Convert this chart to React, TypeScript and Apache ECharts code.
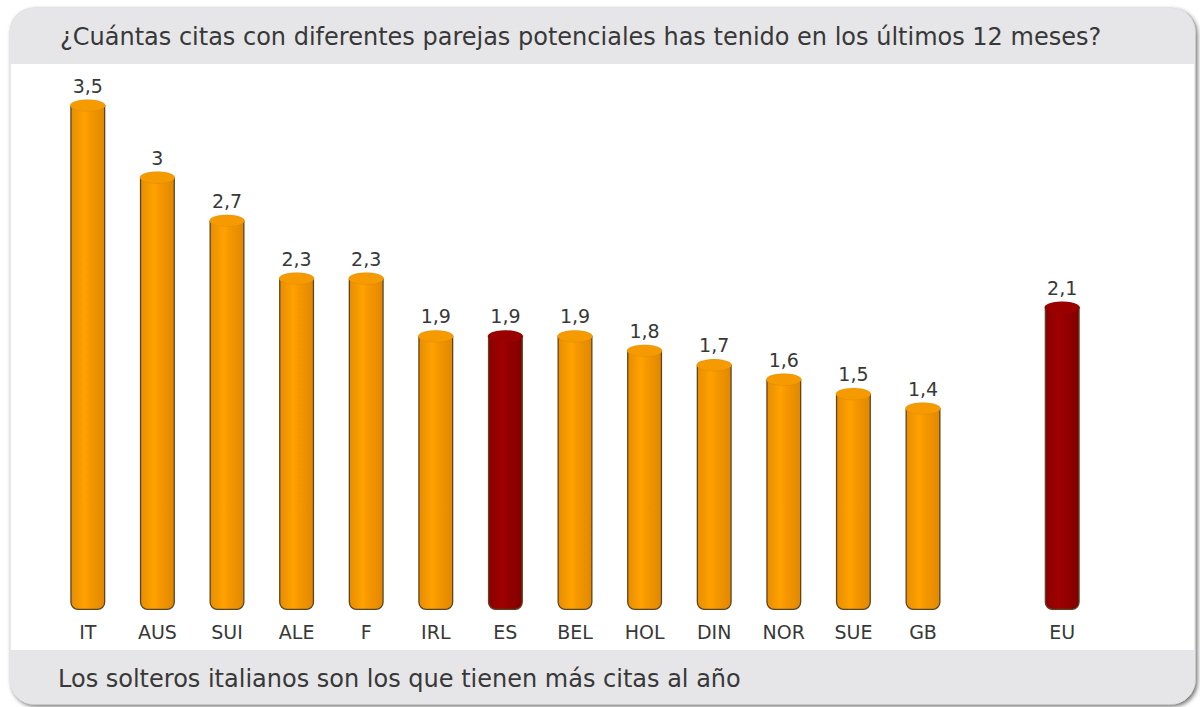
import React, { useEffect, useRef } from "react";
import * as echarts from "echarts";

const titleText = "¿Cuántas citas con diferentes parejas potenciales has tenido en los últimos 12 meses?";
const footerText = "Los solteros italianos son los que tienen más citas al año";
const categories = ["IT", "AUS", "SUI", "ALE", "F", "IRL", "ES", "BEL", "HOL", "DIN", "NOR", "SUE", "GB", "", "EU"];
const values: (number | null)[] = [3.5, 3, 2.7, 2.3, 2.3, 1.9, 1.9, 1.9, 1.8, 1.7, 1.6, 1.5, 1.4, null, 2.1];
const highlighted = ["ES", "EU"];

const FONT = "'DejaVu Sans', Verdana, sans-serif";

function orangeGrad() {
  return new echarts.graphic.LinearGradient(0, 0, 1, 0, [
    { offset: 0, color: "#e88d00" },
    { offset: 0.4, color: "#ffa200" },
    { offset: 0.55, color: "#f79800" },
    { offset: 1, color: "#e08800" },
  ]);
}
function redGrad() {
  return new echarts.graphic.LinearGradient(0, 0, 1, 0, [
    { offset: 0, color: "#8a0000" },
    { offset: 0.4, color: "#a00000" },
    { offset: 0.55, color: "#960000" },
    { offset: 1, color: "#820000" },
  ]);
}

export default function App() {
  const ref = useRef<HTMLDivElement>(null);
  useEffect(() => {
    if (!ref.current) return;
    const chart = echarts.init(ref.current, null, { renderer: "svg" });
    const barData = values.map((v, i) => {
      if (v === null) return "-";
      const hi = highlighted.includes(categories[i]);
      return { value: v, itemStyle: { color: hi ? redGrad() : orangeGrad() } };
    });
    const capData = values.map((v, i) => {
      if (v === null) return "-";
      const hi = highlighted.includes(categories[i]);
      return { value: v, itemStyle: { color: hi ? "#9a0000" : "#f59a00" } };
    });
    chart.setOption({
      animation: false,
      graphic: [
        {
          type: "rect",
          shape: { x: 10, y: 8, width: 1185, height: 696, r: 24 },
          style: { fill: "#ffffff", stroke: "#d4d4d4", lineWidth: 1, shadowBlur: 4, shadowOffsetX: 2, shadowOffsetY: 2, shadowColor: "rgba(0,0,0,0.55)" },
          z: -10,
        },
        {
          type: "rect",
          shape: { x: 10, y: 8, width: 1185, height: 56, r: [24, 24, 0, 0] },
          style: { fill: "#e6e6e8" },
          z: -9,
        },
        {
          type: "rect",
          shape: { x: 10, y: 650, width: 1185, height: 54, r: [0, 0, 24, 24] },
          style: { fill: "#e6e6e8" },
          z: -9,
        },
        {
          type: "text",
          x: 60,
          y: 37,
          style: { text: titleText, fill: "#383838", font: `24px ${FONT}`, verticalAlign: "middle" },
        },
        {
          type: "text",
          x: 58,
          y: 679,
          style: { text: footerText, fill: "#383838", font: `24px ${FONT}`, verticalAlign: "middle" },
        },
      ],
      grid: { left: 53, top: 105, width: 1044, height: 505 },
      xAxis: {
        type: "category",
        data: categories,
        axisLine: { show: false },
        axisTick: { show: false },
        axisLabel: { color: "#383838", fontSize: 19, fontFamily: FONT, margin: 12 },
      },
      yAxis: { type: "value", min: 0, max: 3.5, show: false, splitLine: { show: false } },
      series: [
        {
          type: "bar",
          data: barData,
          barWidth: 35,
          itemStyle: { borderColor: "#5a4326", borderWidth: 1.3, borderRadius: [0, 0, 7, 7] },
          label: {
            show: true,
            position: "top",
            distance: 10,
            color: "#383838",
            fontSize: 19,
            fontFamily: FONT,
            formatter: (p: any) => String(p.value).replace(".", ","),
          },
        },
        {
          type: "pictorialBar",
          data: capData,
          symbol: "circle",
          symbolSize: [35, 12],
          symbolPosition: "end",
          symbolOffset: [0, "-50%"],
          itemStyle: { borderColor: "#4a3420", borderWidth: 1.3 },
          z: 3,
        },
      ],
    });
    return () => chart.dispose();
  }, []);
  return <div ref={ref} style={{ position: "absolute", left: 0, top: 0, width: 1200, height: 707 }} />;
}
